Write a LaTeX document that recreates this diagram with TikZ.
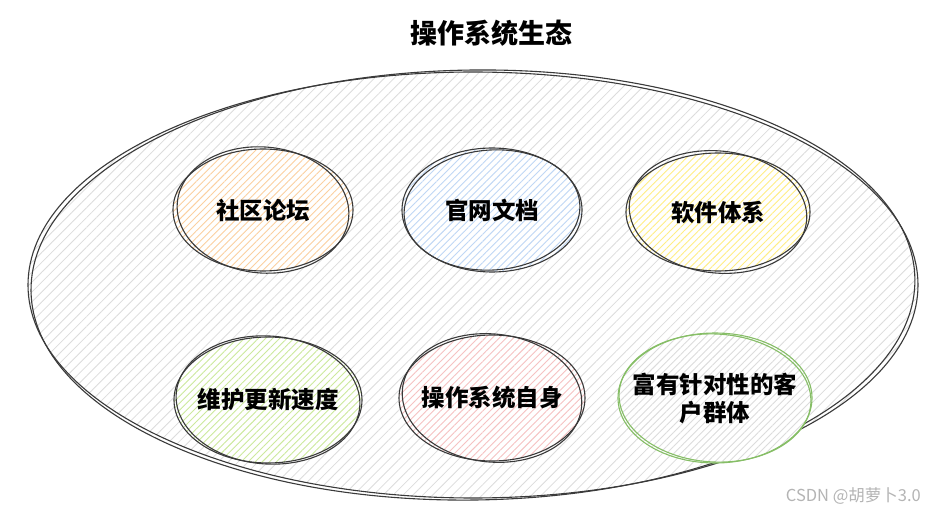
\documentclass[tikz,border=0pt]{standalone}
\usepackage{fontspec}
\setmainfont{Noto Sans CJK SC}
\usetikzlibrary{shapes.geometric,patterns.meta}
\definecolor{inkc}{HTML}{3A3A3A}
\definecolor{hgrey}{HTML}{DCDCDC}
\definecolor{horange}{HTML}{FBD0A0}
\definecolor{hblue}{HTML}{BFD7F5}
\definecolor{hyellow}{HTML}{FFEE85}
\definecolor{hgreen}{HTML}{CCE99C}
\definecolor{hpink}{HTML}{F6C2C2}
\definecolor{hleaf}{HTML}{86BE66}
\definecolor{wmark}{HTML}{B4B4B4}
\tikzset{
  sketch/.style={draw=inkc, line width=1.1pt},
  hatch/.style={pattern={Lines[angle=45,distance=5pt,line width=.9pt]}, pattern color=#1},
  blob/.style={ellipse, inner sep=0pt, draw=inkc, line width=1.1pt, preaction={fill=white}},
  labeltext/.style={font=\fontsize{23.5}{28}\selectfont\bfseries, align=center, inner sep=0pt},
  titletext/.style={font=\fontsize{27}{32}\selectfont\bfseries},
}
\begin{document}
\begin{tikzpicture}[x=1pt,y=1pt]
\useasboundingbox (0,0) rectangle (927,512);
\fill[white] (0,0) rectangle (927,512);
% outer ecosystem ellipse
\node[ellipse, inner sep=0pt, minimum width=890pt, minimum height=426pt, draw=inkc, line width=1.1pt,
  pattern={Lines[angle=45,distance=7pt,line width=.8pt]}, pattern color=hgrey] (eco) at (473,227) {};
\draw[sketch, rotate around={0.8:(eco.center)}] (eco.center) ellipse [x radius=442, y radius=215];
% title
\node[titletext] (title) at (491,479) {操作系统生态};
% inner blobs
\node[blob, hatch=horange, minimum width=180pt, minimum height=122pt] (forum) at (263,302) {};
\draw[sketch, rotate around={-5:(forum.center)}] (forum.center) ellipse [x radius=86, y radius=63];
\node[labeltext] (forumt) at (forum.center) {社区论坛};
\node[blob, hatch=hblue, minimum width=180pt, minimum height=124pt] (docs) at (492,302) {};
\draw[sketch, rotate around={4:(docs.center)}] (docs.center) ellipse [x radius=88, y radius=60];
\node[labeltext] (docst) at (docs.center) {官网文档};
\node[blob, hatch=hyellow, minimum width=184pt, minimum height=118pt] (soft) at (718,300) {};
\draw[sketch, rotate around={-6:(soft.center)}] (soft.center) ellipse [x radius=89, y radius=61];
\node[labeltext] (softt) at (soft.center) {软件体系};
\node[blob, hatch=hgreen, minimum width=188pt, minimum height=126pt] (upd) at (268,112) {};
\draw[sketch, rotate around={-4:(upd.center)}] (upd.center) ellipse [x radius=92, y radius=64];
\node[labeltext] (updt) at (upd.center) {维护更新速度};
\node[blob, hatch=hpink, minimum width=186pt, minimum height=126pt] (self) at (492,114) {};
\draw[sketch, rotate around={-6:(self.center)}] (self.center) ellipse [x radius=90, y radius=64];
\node[labeltext] (selft) at (self.center) {操作系统自身};
\node[blob, draw=hleaf, hatch=hgrey, minimum width=194pt, minimum height=130pt] (users) at (715,114) {};
\draw[draw=hleaf, line width=1.1pt, rotate around={-3:(users.center)}] (users.center) ellipse [x radius=96, y radius=64];
\node[labeltext] (userst) at (users.center) {富有针对性的客\\户群体};
% watermark
\node[anchor=east, text=wmark, font=\fontsize{16.5}{19}\selectfont, inner sep=0pt] (wm) at (921,16) {CSDN @胡萝卜3.0};
\end{tikzpicture}
\end{document}
